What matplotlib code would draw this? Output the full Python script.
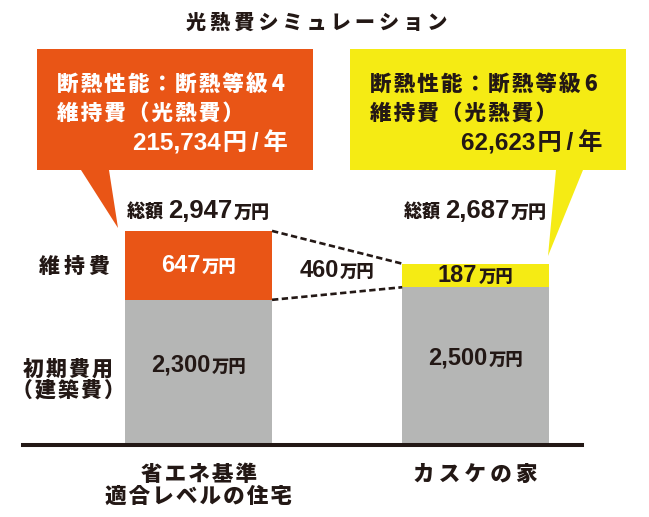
import numpy as np
import matplotlib.pyplot as plt
import matplotlib.transforms as mtransforms
from matplotlib.patches import Polygon
from matplotlib.offsetbox import TextArea, HPacker, AnnotationBbox

plt.rcParams['font.family'] = ['Noto Sans CJK JP', 'DejaVu Sans']

# data (万円)
houses = ['省エネ基準\n適合レベルの住宅', 'カスケの家']
initial_cost = [2300, 2500]
upkeep_cost = [647, 187]
grade = ['4', '6']
energy_per_year = ['215,734', '62,623']  # 円/年
row_labels = ['維持費', '初期費用\n（建築費）']

total = [a + b for a, b in zip(initial_cost, upkeep_cost)]
diff = upkeep_cost[0] - upkeep_cost[1]

orange = '#E95516'
yellow = '#F5EB14'
gray = '#B5B6B5'
ink = '#231815'
cjk = ['Noto Sans CJK JP', 'DejaVu Sans']
latin = ['Liberation Sans', 'Noto Sans CJK JP', 'DejaVu Sans']
heavy = 'heavy'


def sp(s, gap='\u200a'):
    # widen the letter spacing a little, like the original lettering
    return '\n'.join(gap.join(line) for line in s.split('\n'))


def fmt(v):
    return f'{v:,}'


W, H = 649, 517
fig = plt.figure(figsize=(W / 100, H / 100), dpi=100)
# pixel coords measured from the top-left corner
px = mtransforms.Affine2D().scale(1 / W, -1 / H).translate(0, 1) + fig.transFigure

ax = fig.add_axes([23 / W, (H - 444.7) / H, 559 / W, 444.7 / H])

# the upkeep part is drawn stretched above the higher initial cost
knee = max(initial_cost)


def fwd(v):
    v = np.asarray(v, float)
    return np.where(v <= knee, v, knee + 2 * (v - knee))


def inv(v):
    v = np.asarray(v, float)
    return np.where(v <= knee, v, knee + (v - knee) / 2)


ax.set_yscale('function', functions=(fwd, inv))
ax.set_ylim(0, 4780)
ax.set_xlim(-0.634, 1.384)

x = np.arange(len(houses))
w = 0.53
ax.bar(x, initial_cost, width=w, color=gray)
ax.bar(x, upkeep_cost, bottom=initial_cost, width=w, color=[orange, yellow])

# dashed links between the bars
dash = dict(color=ink, lw=1.9, ls=(0, (2.4, 1.3)), solid_capstyle='butt')
ax.plot([x[0] + w / 2, x[1] - w / 2], total, **dash)
ax.plot([x[0] + w / 2, x[1] - w / 2], initial_cost, **dash)

for s in ['top', 'right', 'left']:
    ax.spines[s].set_visible(False)
ax.spines['bottom'].set_linewidth(2.9)
ax.spines['bottom'].set_color(ink)
ax.set_yticks([])
ax.set_xticks(x, labels=[sp(houses[0]), sp(houses[1], '\u2009')])
ax.tick_params(axis='x', length=0, pad=13, labelsize=15.5, labelcolor=ink)
for t in ax.get_xticklabels():
    t.set_fontweight(heavy)
    t.set_linespacing(0.95)


def label_box(num, unit, color, numsize=17, unitsize=12.5, lead=None):
    parts = []
    if lead:
        parts.append(TextArea(lead, textprops=dict(size=unitsize, weight=heavy, color=color, family=cjk)))
    parts.append(TextArea(num, textprops=dict(size=numsize, weight='bold', color=color, family=latin)))
    parts.append(TextArea(unit, textprops=dict(size=unitsize, weight=heavy, color=color, family=cjk)))
    return HPacker(children=parts, align='baseline', pad=0, sep=1)


def mid(lo, hi, f=0.5):
    return float(inv(fwd(lo) + f * (fwd(hi) - fwd(lo))))


up_colors = ['white', ink]
for i in range(len(houses)):
    ab = AnnotationBbox(label_box(fmt(upkeep_cost[i]), '万円', up_colors[i]),
                        (x[i], mid(initial_cost[i], total[i])),
                        frameon=False, pad=0, box_alignment=(0.5, 0.5))
    ax.add_artist(ab)
    ab = AnnotationBbox(label_box(fmt(initial_cost[i]), '万円', ink),
                        (x[i], mid(0, initial_cost[i], 0.55)),
                        frameon=False, pad=0, box_alignment=(0.5, 0.5))
    ax.add_artist(ab)
    ab = AnnotationBbox(label_box(fmt(total[i]), '万円', ink, numsize=18.5, unitsize=13,
                                  lead='総額 '),
                        (x[i], max(total)), xybox=(0, 20), boxcoords='offset pixels',
                        frameon=False, pad=0, box_alignment=(0.5, 0.5))
    ax.add_artist(ab)

# difference between the upkeep costs
ymid = float(inv(np.mean(fwd([total[0], total[1], initial_cost[0], initial_cost[1]]))))
ax.add_artist(AnnotationBbox(label_box(fmt(diff), '万円', ink), (0.5, ymid),
                             frameon=False, pad=0, box_alignment=(0.5, 0.5)))

# row labels on the left
fig.text(74, 267, sp(row_labels[0], '\u2009'), transform=px, ha='center', va='center',
         size=15, weight=heavy, color=ink)
fig.text(68, 380, sp(row_labels[1]), transform=px, ha='center', va='center',
         size=15, weight=heavy, color=ink, linespacing=1.05)

# title
fig.text(317, 23, sp('光熱費シミュレーション', '\u2009'), transform=px, ha='center',
         va='center', size=14.5, weight=heavy, color=ink)

# callout bubbles
bubbles = [
    dict(pts=[(37, 49), (313, 49), (313, 170), (109, 170), (118, 228), (81, 170), (37, 170)],
         color=orange, text='white', left=57, right=288),
    dict(pts=[(350, 49), (626, 49), (626, 170), (583, 170), (548, 256), (556, 170), (350, 170)],
         color=yellow, text=ink, left=370, right=602),
]
for i, b in enumerate(bubbles):
    fig.add_artist(Polygon(b['pts'], closed=True, transform=px, facecolor=b['color'],
                           edgecolor='none'))
    fig.text(b['left'], 84, sp('断熱性能：断熱等級') + '\u2009' + grade[i],
             transform=px, ha='left', va='center', size=15.5, weight=heavy,
             color=b['text'], family=cjk)
    fig.text(b['left'], 113, sp('維持費（光熱費）'),
             transform=px, ha='left', va='center', size=15.5, weight=heavy,
             color=b['text'], family=cjk)
    fig.text(b['right'], 143, energy_per_year[i] + '\u200a円\u2009/\u2009年',
             transform=px, ha='right', va='center', size=17.5, weight='bold',
             color=b['text'], family=latin)

fig.savefig('out.png', dpi=100)
